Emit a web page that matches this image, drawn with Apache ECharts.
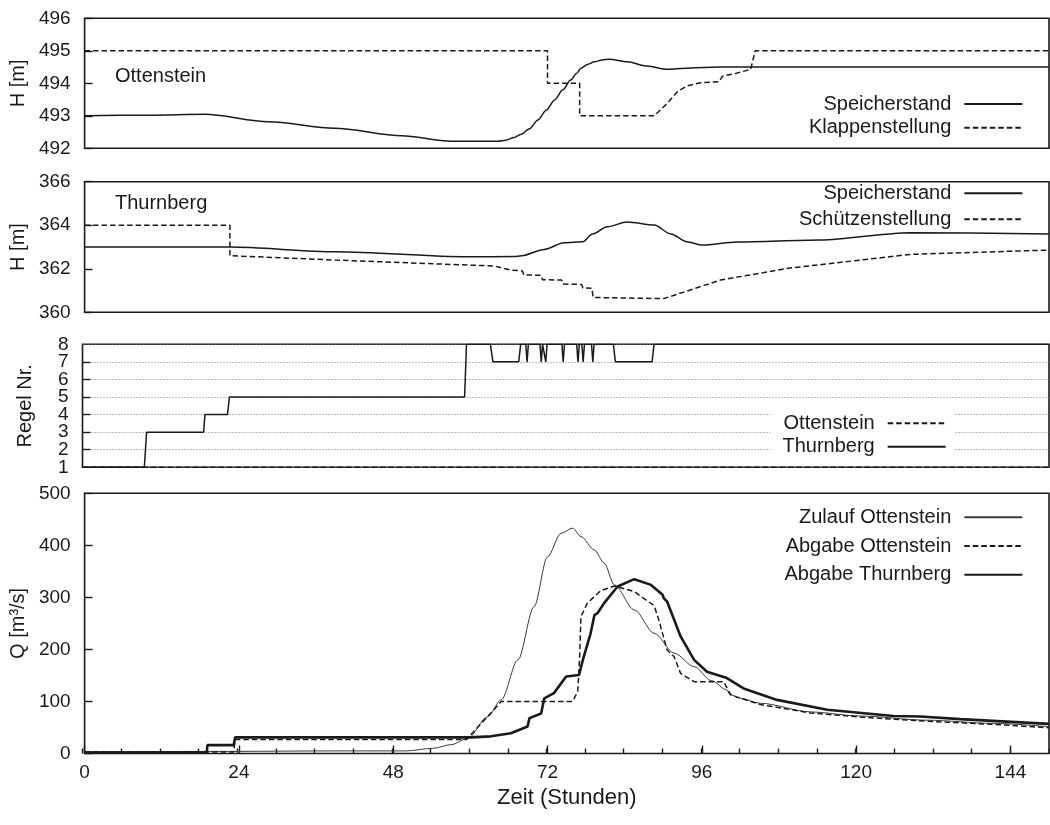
<!DOCTYPE html>
<html>
<head>
<meta charset="utf-8">
<script src="https://cdn.jsdelivr.net/npm/echarts@6/dist/echarts.min.js"></script>
<style>
html, body { margin: 0; padding: 0; background: #fff; }
#main { width: 1050px; height: 825px; }
</style>
</head>
<body>
<div id="main"></div>
<script>
// Zeit in Stunden, Werte je Reihe
var hourTicks = [0, 24, 48, 72, 96, 120, 144];
var regelEnds = [1, 8];

// Ottenstein: Speicherstand / Klappenstellung [m]
var ottSpeicherT = [0, 10, 18.7, 28.6, 38.9, 49.3, 57, 64.3, 65.5, 66.8, 67.9, 69.2, 70.5, 71.8, 73.1, 74.4, 75.6, 76.5, 77.2, 78.2, 79.3, 80.5, 81.6, 84.4, 87.5, 90.6, 93.7, 96.3, 98.9, 150];
var ottSpeicherH = [493.0, 493.02, 493.05, 492.82, 492.62, 492.39, 492.22, 492.22, 492.25, 492.33, 492.43, 492.6, 492.87, 493.17, 493.49, 493.8, 494.1, 494.3, 494.46, 494.58, 494.66, 494.72, 494.74, 494.66, 494.53, 494.43, 494.46, 494.49, 494.5, 494.5];
var ottKlappeT = [0, 72, 72, 77, 77, 88.6, 90.6, 92.2, 93.7, 95.8, 98.7, 99.2, 101, 103.6, 104.3, 150];
var ottKlappeH = [495, 495, 494, 494, 493, 493, 493.38, 493.74, 493.92, 494.02, 494.05, 494.22, 494.29, 494.43, 495, 495];

// Thurnberg: Speicherstand / Schützenstellung [m]
var thuSpeicherT = [0, 22.6, 39, 59.6, 66.8, 68, 71.5, 74.6, 77.5, 79, 81.3, 84.4, 88.6, 91.2, 93.7, 96.1, 101.5, 114.4, 128.4, 150];
var thuSpeicherH = [363.0, 363.0, 362.78, 362.55, 362.56, 362.6, 362.89, 363.2, 363.24, 363.6, 363.93, 364.15, 364.01, 363.6, 363.24, 363.09, 363.23, 363.32, 363.66, 363.6];
var thuSchuetzT = [0, 22.6, 22.6, 39, 59.6, 63.7, 66.3, 68.1, 68.3, 71.0, 71.2, 74.2, 74.4, 77.3, 77.5, 78.9, 79.1, 90.1, 98.9, 109.4, 128.4, 150];
var thuSchuetzH = [364, 364, 362.6, 362.4, 362.17, 362.13, 361.94, 361.9, 361.72, 361.7, 361.5, 361.48, 361.3, 361.28, 361.12, 361.1, 360.68, 360.63, 361.48, 362.02, 362.66, 362.86];

// Regel Nr.
var regelOttT = [0, 150];
var regelOttN = [1, 1];
var regelThuT = [0, 9.6, 9.95, 18.8, 19.0, 22.5, 22.8, 59.3, 59.6, 63.3, 63.7, 67.7, 68.0,
  68.8, 69.0, 69.2, 71.0, 71.2, 71.4, 71.7, 71.9, 72.1, 74.4, 74.6, 74.8, 76.7, 76.9, 77.1,
  77.5, 77.7, 77.9, 79.0, 79.2, 79.4, 82.4, 82.7, 88.4, 88.7, 150];
var regelThuN = [1, 1, 3, 3, 4, 4, 5, 5, 8, 8, 7, 7, 8,
  8, 7, 8, 8, 7, 8, 8, 7, 8, 8, 7, 8, 8, 7, 8,
  8, 7, 8, 8, 7, 8, 8, 7, 7, 8, 8];

// Abfluss Q [m3/s]
var zulaufT = [0, 20, 40, 50, 54.2, 57, 59.6, 62.7, 64.8, 67.4, 69.9, 72, 74.1, 75.9, 77.2, 79.3, 80.8, 82.4, 85.5, 88.6, 91.7, 94.8, 97.5, 99.9, 100.3, 102, 105.1, 112.9, 120.6, 131, 141.3, 150];
var zulaufQ = [3, 4, 5, 5, 10, 17, 29, 71, 103, 180, 282, 378, 423, 433, 417, 391, 366, 324, 276, 231, 193, 167, 140, 122, 114, 106, 96.5, 80, 72, 64, 58, 51.5];
var abgOttT = [0, 23.2, 23.4, 59.4, 62.7, 64.8, 75.9, 76.7, 77.0, 77.2, 78.2, 80.3, 82.4, 85.5, 88.6, 89.3, 90.6, 91.7, 92.7, 94.8, 99.4, 100.5, 105.1, 112.9, 120.6, 131, 141.3, 150];
var abgOttQ = [3, 3, 27, 27, 71, 100, 100, 119, 186, 263, 289, 313, 322, 311, 284, 257, 199, 186, 154, 138, 138, 112.5, 94, 78, 70, 62, 56, 49.5];
var abgThuT = [0, 19, 19.1, 23.2, 23.4, 60, 63.2, 66.3, 68.9, 69.2, 71, 71.5, 73, 74.9, 76.9, 77.5, 78.7, 79.3, 79.8, 80.8, 82.9, 85.5, 88.1, 89.9, 90.1, 90.6, 92.7, 94.8, 96.8, 99.9, 102.5, 107.7, 115.5, 125.8, 130, 136.2, 150];
var abgThuQ = [2, 2, 16, 16, 31, 31, 33, 39, 52, 68, 77, 106, 116, 148, 151, 180, 231, 266, 270, 289, 321, 335, 324, 305, 298, 292, 225, 180, 157, 145, 125, 103, 84, 72, 71, 66, 57];

function pairs(t, v) {
  return t.map(function (x, i) { return [x, v[i]]; });
}

var FONT = 'Liberation Sans, Arial, sans-serif';
var INK = '#1a1a1a';
var DASH = [5.5, 3];

var grids = [
  { left: 82.5, right: 1, top: 18.3, height: 130 },
  { left: 82.5, right: 1, top: 181.7, height: 130.6 },
  { left: 82.5, right: 1, top: 344.3, height: 123 },
  { left: 82.5, right: 1, top: 493.3, height: 260.2 },
  { left: 82.5, right: 1, top: 493.3, height: 260.2 }
];
grids.forEach(function (g, i) {
  g.show = i < 4;
  g.borderColor = INK;
  g.borderWidth = 1.6;
});

function xAx(i, bottom) {
  return {
    type: 'value', gridIndex: i, min: 0, max: 150, interval: 24,
    axisLine: { show: false },
    splitLine: { show: false },
    axisTick: { show: bottom, inside: true, length: 8, lineStyle: { color: INK, width: 1.4 } },
    axisLabel: {
      show: bottom, fontSize: 19, fontFamily: FONT, color: INK, margin: 10,
      showMaxLabel: false, hideOverlap: false,
      formatter: function (v) { return hourTicks.indexOf(v) >= 0 ? String(v) : ''; }
    },
    name: bottom ? 'Zeit (Stunden)' : '',
    nameLocation: 'middle', nameGap: 33,
    nameTextStyle: { fontSize: 22, fontFamily: FONT, color: INK }
  };
}

function yAx(i, min, max, interval, name, grid) {
  return {
    type: 'value', gridIndex: i, position: 'left', min: min, max: max, interval: interval,
    axisLine: { show: false },
    axisTick: { show: true, inside: true, length: 8, lineStyle: { color: INK, width: 1.4 } },
    axisLabel: {
      fontSize: 19, fontFamily: FONT, color: INK, margin: 14,
      showMinLabel: grid ? false : true, showMaxLabel: grid ? false : true, hideOverlap: false
    },
    splitLine: grid
      ? { show: true, lineStyle: { color: '#777', width: 1, type: [1, 2] } }
      : { show: false },
    name: name, nameLocation: 'middle', nameGap: 47, nameRotate: 90,
    nameTextStyle: { fontSize: 20, fontFamily: FONT, color: INK }
  };
}

var xAxes = [xAx(0, false), xAx(1, false), xAx(2, false), xAx(3, true)];
// Nebenteilung alle 6 Stunden
xAxes.push({
  type: 'value', gridIndex: 4, min: 0, max: 150, interval: 6,
  axisLine: { show: false }, splitLine: { show: false }, axisLabel: { show: false },
  axisTick: { show: true, inside: true, length: 5, lineStyle: { color: INK, width: 1.4 } }
});

var yAxes = [
  yAx(0, 492, 496, 1, 'H [m]', false),
  yAx(1, 360, 366, 2, 'H [m]', false),
  yAx(2, 1, 8, 1, 'Regel Nr.', true),
  yAx(3, 0, 500, 100, 'Q [m³/s]', false),
  { type: 'value', gridIndex: 4, min: 0, max: 500, show: false },
  // Endbeschriftungen 1 und 8 der Regel-Achse
  {
    type: 'value', gridIndex: 2, position: 'left', min: 1, max: 8, interval: 1,
    axisLine: { show: false }, axisTick: { show: false }, splitLine: { show: false },
    axisLabel: {
      fontSize: 19, fontFamily: FONT, color: INK, margin: 14,
      showMinLabel: true, showMaxLabel: true,
      formatter: function (v) { return regelEnds.indexOf(v) >= 0 ? String(v) : ''; }
    }
  }
];

function line(name, idx, t, v, width, dashed, color, smooth) {
  return {
    name: name, type: 'line', xAxisIndex: idx, yAxisIndex: idx,
    data: pairs(t, v), symbol: 'none', showSymbol: false,
    smooth: smooth || false, smoothMonotone: 'x',
    color: color || INK,
    lineStyle: { color: color || INK, width: width, type: dashed ? DASH : 'solid' },
    emphasis: { disabled: true }
  };
}

var series = [
  line('Speicherstand', 0, ottSpeicherT, ottSpeicherH, 1.5, false, null, 0.3),
  line('Klappenstellung', 0, ottKlappeT, ottKlappeH, 1.5, true),
  line('Speicherstand', 1, thuSpeicherT, thuSpeicherH, 1.5, false, null, 0.3),
  line('Schützenstellung', 1, thuSchuetzT, thuSchuetzH, 1.5, true),
  line('Ottenstein', 2, regelOttT, regelOttN, 1.5, true),
  line('Thurnberg', 2, regelThuT, regelThuN, 1.5, false),
  line('Zulauf Ottenstein', 3, zulaufT, zulaufQ, 1, false, '#3a3a3a', 0.3),
  line('Abgabe Ottenstein', 3, abgOttT, abgOttQ, 1.5, true),
  line('Abgabe Thurnberg', 3, abgThuT, abgThuQ, 2.6, false)
];

function legend(names, right, top, gap, extra) {
  var l = {
    data: names, orient: 'vertical', align: 'right', right: right, top: top,
    itemWidth: 58, itemHeight: 14, itemGap: gap, padding: 0,
    selectedMode: false,
    itemStyle: { opacity: 0 },
    textStyle: { fontSize: 20, lineHeight: 20, fontFamily: FONT, color: INK, padding: [0, 8, 0, 0] }
  };
  return Object.assign(l, extra || {});
}

var option = {
  animation: false,
  backgroundColor: '#fff',
  grid: grids,
  xAxis: xAxes,
  yAxis: yAxes,
  legend: [
    legend(['Speicherstand', 'Klappenstellung'], 26.7, 94, 3.7),
    legend(['Speicherstand', 'Schützenstellung'], 26.7, 183.3, 6),
    legend(['Ottenstein', 'Thurnberg'], 95.3, 405.3, 3.4, { backgroundColor: '#fff', padding: [8, 8, 8, 12] }),
    legend(['Zulauf Ottenstein', 'Abgabe Ottenstein', 'Abgabe Thurnberg'], 26.7, 507.3, 8.7)
  ],
  graphic: [
    { type: 'text', left: 115, top: 66, style: { text: 'Ottenstein', font: '20px ' + FONT, fill: INK } },
    { type: 'text', left: 115, top: 193, style: { text: 'Thurnberg', font: '20px ' + FONT, fill: INK } }
  ],
  series: series
};

var myChart = echarts.init(document.getElementById('main'));
myChart.setOption(option);
</script>
</body>
</html>
